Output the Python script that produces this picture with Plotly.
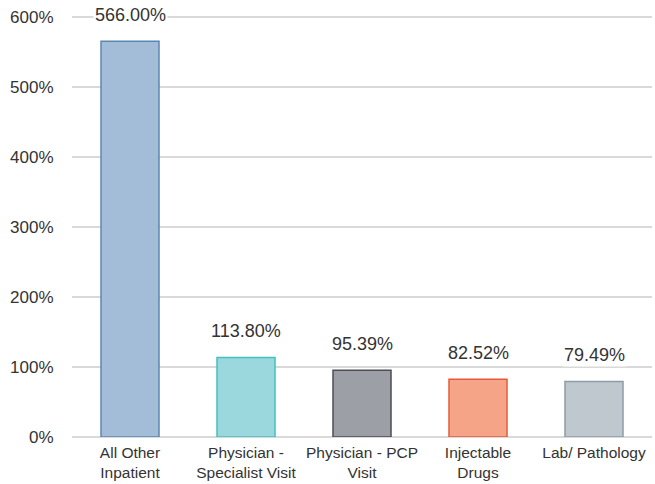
import plotly.graph_objects as go

categories = ["All Other<br>Inpatient", "Physician -<br>Specialist Visit", "Physician - PCP<br>Visit", "Injectable<br>Drugs", "Lab/ Pathology"]
values = [566.00, 113.80, 95.39, 82.52, 79.49]
fill_colors = ["#a3bdd8", "#9ad8de", "#9c9fa5", "#f5a488", "#bec8ce"]
line_colors = ["#5b86b3", "#45bfc0", "#4b4d53", "#e8593b", "#8d9ca6"]
tick_vals = [0, 100, 200, 300, 400, 500, 600]
tick_text = ["0%", "100%", "200%", "300%", "400%", "500%", "600%"]

FONT = "Liberation Sans, Arial, sans-serif"

fig = go.Figure()
fig.add_trace(go.Bar(
    x=categories, y=values, width=0.5,
    marker=dict(color=fill_colors, line=dict(color=line_colors, width=1.5)),
    hoverinfo="skip",
))

for c, v in zip(categories, values):
    fig.add_annotation(x=c, y=v, text=f"{v:.2f}%", showarrow=False,
                       yanchor="bottom", yshift=14, bgcolor="white",
                       font=dict(size=18, color="#333333", family=FONT))

fig.update_layout(
    width=655, height=484,
    margin=dict(l=72, r=3, t=16, b=47, autoexpand=False),
    paper_bgcolor="white", plot_bgcolor="white",
    showlegend=False,
    font=dict(family=FONT, color="#333333"),
    bargap=0.5,
)
fig.update_xaxes(tickfont=dict(size=15.5, color="#333333"), showgrid=False,
                 showline=False, ticks="outside", ticklen=1,
                 tickcolor="rgba(0,0,0,0)", automargin=False)
fig.update_yaxes(range=[0, 602], tickvals=tick_vals, ticktext=tick_text,
                 tickfont=dict(size=17, color="#333333"),
                 showgrid=True, gridcolor="#d9d9d9", gridwidth=1.5,
                 zeroline=True, zerolinecolor="#d9d9d9", zerolinewidth=1.5,
                 ticks="outside", ticklen=14, tickcolor="rgba(0,0,0,0)",
                 automargin=False, ticklabeloverflow="allow")

# remove the browser's default 8px body margin so the figure fills the window
fig.write_html("out.html",
               config={"displayModeBar": False},
               post_script="document.body.style.margin='0px';document.body.style.overflow='hidden';")
